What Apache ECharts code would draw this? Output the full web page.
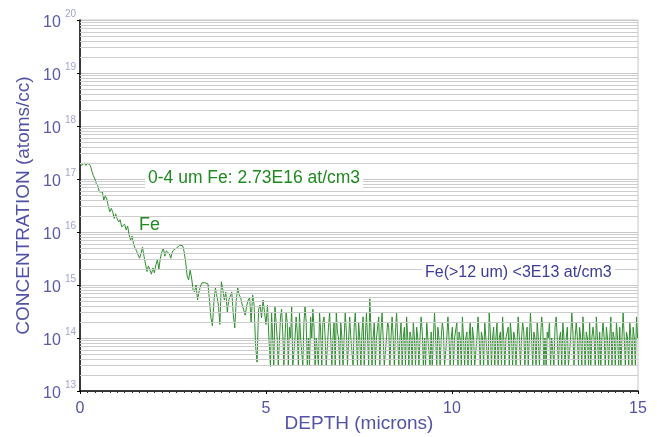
<!DOCTYPE html>
<html>
<head>
<meta charset="utf-8">
<script src="https://cdn.jsdelivr.net/npm/echarts@6/dist/echarts.min.js"></script>
<style>
html,body{margin:0;padding:0;background:#fff;}
#c{width:657px;height:437px;}
</style>
</head>
<body>
<div id="c"></div>
<script>
// Near-surface profile: depth sampling (microns) and Fe concentration (atoms/cc)
const profileStep = 0.04;
const profileConc = [
 2.0e17,1.8e17,1.9e17,2.0e17,1.8e17,2.0e17,2.1e17,1.8e17,1.4e17,1.15e17,
 1.0e17,8.2e16,7.4e16,5.7e16,6.0e16,5.7e16,4.0e16,4.8e16,4.2e16,3.1e16,
 2.4e16,2.8e16,2.4e16,1.8e16,2.2e16,1.75e16,1.55e16,1.7e16,1.25e16,1.35e16,
 1.4e16,1.1e16,1.3e16,8.9e15,7.0e15,8.4e15,5.9e15,5.0e15,4.4e15,3.7e15,
 3.2e15,3.9e15,5.2e15,3.5e15,2.5e15,1.8e15,2.3e15,1.9e15,1.6e15,2.1e15,
 1.7e15,2.4e15,3.0e15,2.0e15,3.2e15,4.2e15,5.0e15,3.5e15,4.4e15,4.6e15,
 3.9e15,3.2e15,4.2e15,4.6e15,4.8e15,5.0e15,5.2e15,5.6e15,5.9e15,5.5e15,
 4.2e15,2.7e15,1.5e15,1.25e15,1.9e15,1.35e15,8.1e14,7.4e14,1.0e15,5.2e14,
 7.4e14,9.6e14,1.1e15,1.1e15,1.1e15,1.1e15,1.05e15,5.2e14,2.4e14,1.7e14,
 4.9e14,8.8e14,8.1e14,4.2e14,1.8e14,1.15e15,8.1e14,5.2e14,7.4e14,3.1e14,
 5.2e14,6.2e14,7.4e14,2.8e14,1.55e14,5.2e14,8.8e14,6.5e14,5.7e14,4.2e14,
 3.4e14,2.7e14,4.0e14,5.2e14,5.7e14,2.0e14,6.5e14,4.2e14,7.0e13,3.5e13,
 3.4e14,4.2e14,2.4e14,5.2e14,3.1e14,1.8e14,4.2e14,9.5e13,2.9e13
];
// Deep (background) region: start depth, sampling step and concentration
const floorStart = 5.15;
const floorStep = 0.03;
const floorConc = [
 3e14,1e14,3e13,4e14,2e14,1e14,3e13,3e13,2.5e14,3.5e14,
 1.3e14,3e13,1e14,3e14,2e14,3e13,1.6e14,1e14,4e14,3e13,
 3e13,1e14,2.5e14,1.3e14,3e13,3e14,1e14,1e14,3e13,2e14,
 4e14,2e14,3e13,1e14,3e13,2.5e14,1e14,3.5e14,1.6e14,3e13,
 1e14,1e14,3e13,3e14,1.3e14,3e13,2e14,2.5e14,1e14,3e13,
 3e13,1.6e14,3e14,1e14,3e13,1e14,2e14,3e13,3e14,1.3e14,
 1e14,3e13,
 2e14,1e14,3e13,1e14,3e14,1.3e14,3e13,3e13,2.5e14,1e14,
 1e14,3e13,1.6e14,3e14,1e14,3e13,2e14,1e14,3e13,1.3e14,
 2.5e14,3e13,1e14,3e14,1e14,3e13,5.5e14,1.6e14,3e13,1e14,
 2e14,3e13,1e14,1e14,2.5e14,3e13,1.3e14,3e14,1e14,3e13,
 3e13,1e14,2e14,1.6e14,3e13,1e14,2.5e14,1e14,3e13,1.3e14,
 3e14,1e14,3e13,1e14,2e14,3e13,1e14,1.6e14,3e13,2.5e14,
 1e14,3e13,1.3e14,1e14,3e13,2e14,1e14,
 3e13,1.6e14,1e14,3e13,1e14,2.5e14,1.3e14,3e13,1e14,3e13,
 2e14,1e14,1e14,3e13,1.3e14,3e13,1e14,3e14,1e14,3e13,
 1.6e14,1e14,3e13,1e14,2e14,1.3e14,3e13,3e13,1e14,2.5e14,
 1e14,3e13,1e14,1.6e14,3e13,1e14,1e14,2e14,3e13,1.3e14,
 1e14,3e13,2.5e14,1e14,3e13,1e14,1.3e14,3e13,1e14,2e14,
 3e13,1.6e14,1e14,3e13,3e13,1e14,2.5e14,1e14,3e13,1.3e14,
 1e14,3e13,2e14,1e14,1e14,3e13,3e14,1.3e14,3e13,1e14,
 1.6e14,3e13,1e14,2e14,3e13,1e14,1.3e14,3e13,2.5e14,1e14,
 3e13,1e14,1e14,1.6e14,3e13,2e14,1e14,3e13,1.3e14,1e14,
 3e13,3e13,2.5e14,1e14,3e13,1e14,2e14,1.3e14,3e13,1e14,
 1.6e14,3e13,1e14,3e14,1e14,3e13,1.3e14,1e14,3e13,2e14,
 1e14,3e13,1e14,2.5e14,1.6e14,3e13,1e14,3e13,1.3e14,1e14,
 2e14,3e13,1e14,1e14,3e13,1.6e14,2.5e14,1e14,3e13,1e14,
 1.3e14,3e13,2e14,1e14,3e13,1e14,1.6e14,3e13,3e13,1e14,
 3e14,1.3e14,3e13,1e14,2e14,1e14,3e13,1.6e14,1e14,3e13,
 2.5e14,1e14,3e13,1.3e14,1e14,3e13,2e14,3e13,1e14,1.6e14,
 1e14,3e13,2.5e14,1e14,3e13,1.3e14,3e13,1e14,2e14,1e14,
 3e13,1.6e14,1e14,3e13,1e14,2.5e14,3e13,1.3e14,1e14,3e13,
 2e14,1e14,3e13,1.6e14,3e13,1e14,3e14,1e14,3e13,1.3e14,
 1e14,3e13,2e14,1e14,3e13,1.6e14,1e14,3e13,2.5e14,1e14
];
// Axis settings
const xTicks = [0, 5, 10, 15];
const yDecades = [13, 14, 15, 16, 17, 18, 19, 20];
const minorMultipliers = [2, 3, 4, 5, 6, 7, 8, 9];
// Annotation texts
const noteAvg = '0-4 um Fe: 2.73E16 at/cm3';
const noteFe = 'Fe';
const noteDeep = 'Fe(>12 um) <3E13 at/cm3';

const seriesData = profileConc.map((v, i) => [+(i * profileStep).toFixed(3), v])
  .concat(floorConc.map((v, i) => [+(floorStart + i * floorStep).toFixed(3), v]));
const minorLines = [];
yDecades.slice(0, -1).forEach(d => minorMultipliers.forEach(m => minorLines.push({ yAxis: m * Math.pow(10, d) })));

const blue = '#5252a6';
const font = 'Liberation Sans, Arial, sans-serif';
const chart = echarts.init(document.getElementById('c'), null, { renderer: 'canvas' });
chart.setOption({
  animation: false,
  backgroundColor: '#ffffff',
  textStyle: { fontFamily: font },
  grid: { left: 80, right: 19, top: 20, bottom: 46, show: true, borderColor: '#c8c8c8', borderWidth: 1,
          containLabel: false, outerBoundsMode: 'none' },
  xAxis: {
    type: 'value', min: xTicks[0], max: xTicks[xTicks.length - 1], interval: 5,
    name: 'DEPTH (microns)', nameLocation: 'middle', nameGap: 23, nameMoveOverlap: false,
    nameTextStyle: { color: blue, fontSize: 19 },
    axisLine: { lineStyle: { color: '#000', width: 1.5 } },
    axisTick: { show: true, length: 3, lineStyle: { color: '#000' } },
    minorTick: { show: true, splitNumber: 25, length: 2, lineStyle: { color: '#333' } },
    axisLabel: { color: blue, fontSize: 16, margin: 10 },
    splitLine: { show: false }
  },
  yAxis: {
    type: 'log', logBase: 10, min: 1e13, max: 1e20,
    name: 'CONCENTRATION (atoms/cc)', nameLocation: 'middle', nameGap: 47, nameMoveOverlap: false,
    nameTextStyle: { color: blue, fontSize: 19 },
    axisLine: { show: true, lineStyle: { color: '#000', width: 1.5 } },
    axisTick: { show: true, length: 3, lineStyle: { color: '#000' } },
    axisLabel: {
      margin: 4,
      formatter: v => '{b|10}{s|' + Math.round(Math.log10(v)) + '}',
      rich: {
        b: { fontSize: 16, color: '#5a5aac', verticalAlign: 'bottom', padding: [6, 0, 0, 0] },
        s: { fontSize: 10, color: '#a4a4d2', verticalAlign: 'top', padding: [0, 0, 9, 4] }
      }
    },
    splitLine: { show: true, lineStyle: { color: '#c8c8c8', width: 1 } }
  },
  series: [
    {
      type: 'line', data: [], silent: true, z: 1,
      markLine: {
        silent: true, symbol: 'none', label: { show: false },
        lineStyle: { color: '#cdcdcd', type: 'solid', width: 1 },
        emphasis: { disabled: true },
        data: minorLines
      }
    },
    {
      type: 'line', data: seriesData, showSymbol: false, symbol: 'none', z: 3,
      smooth: false, sampling: null,
      lineStyle: { color: '#2f8f2f', width: 1 }
    }
  ],
  graphic: [
    { type: 'text', left: 145, top: 168, z: 10,
      style: { text: noteAvg, fill: '#1f8a1f', fontSize: 17.5, fontFamily: font, backgroundColor: '#fff', padding: [1, 3] } },
    { type: 'text', left: 139, top: 216, z: 10,
      style: { text: noteFe, fill: '#1f8a1f', fontSize: 18, fontFamily: font } },
    { type: 'text', left: 422, top: 264, z: 10,
      style: { text: noteDeep, fill: '#3c3c98', fontSize: 16, fontFamily: font, backgroundColor: '#fff', padding: [1, 3] } }
  ]
});
</script>
</body>
</html>
